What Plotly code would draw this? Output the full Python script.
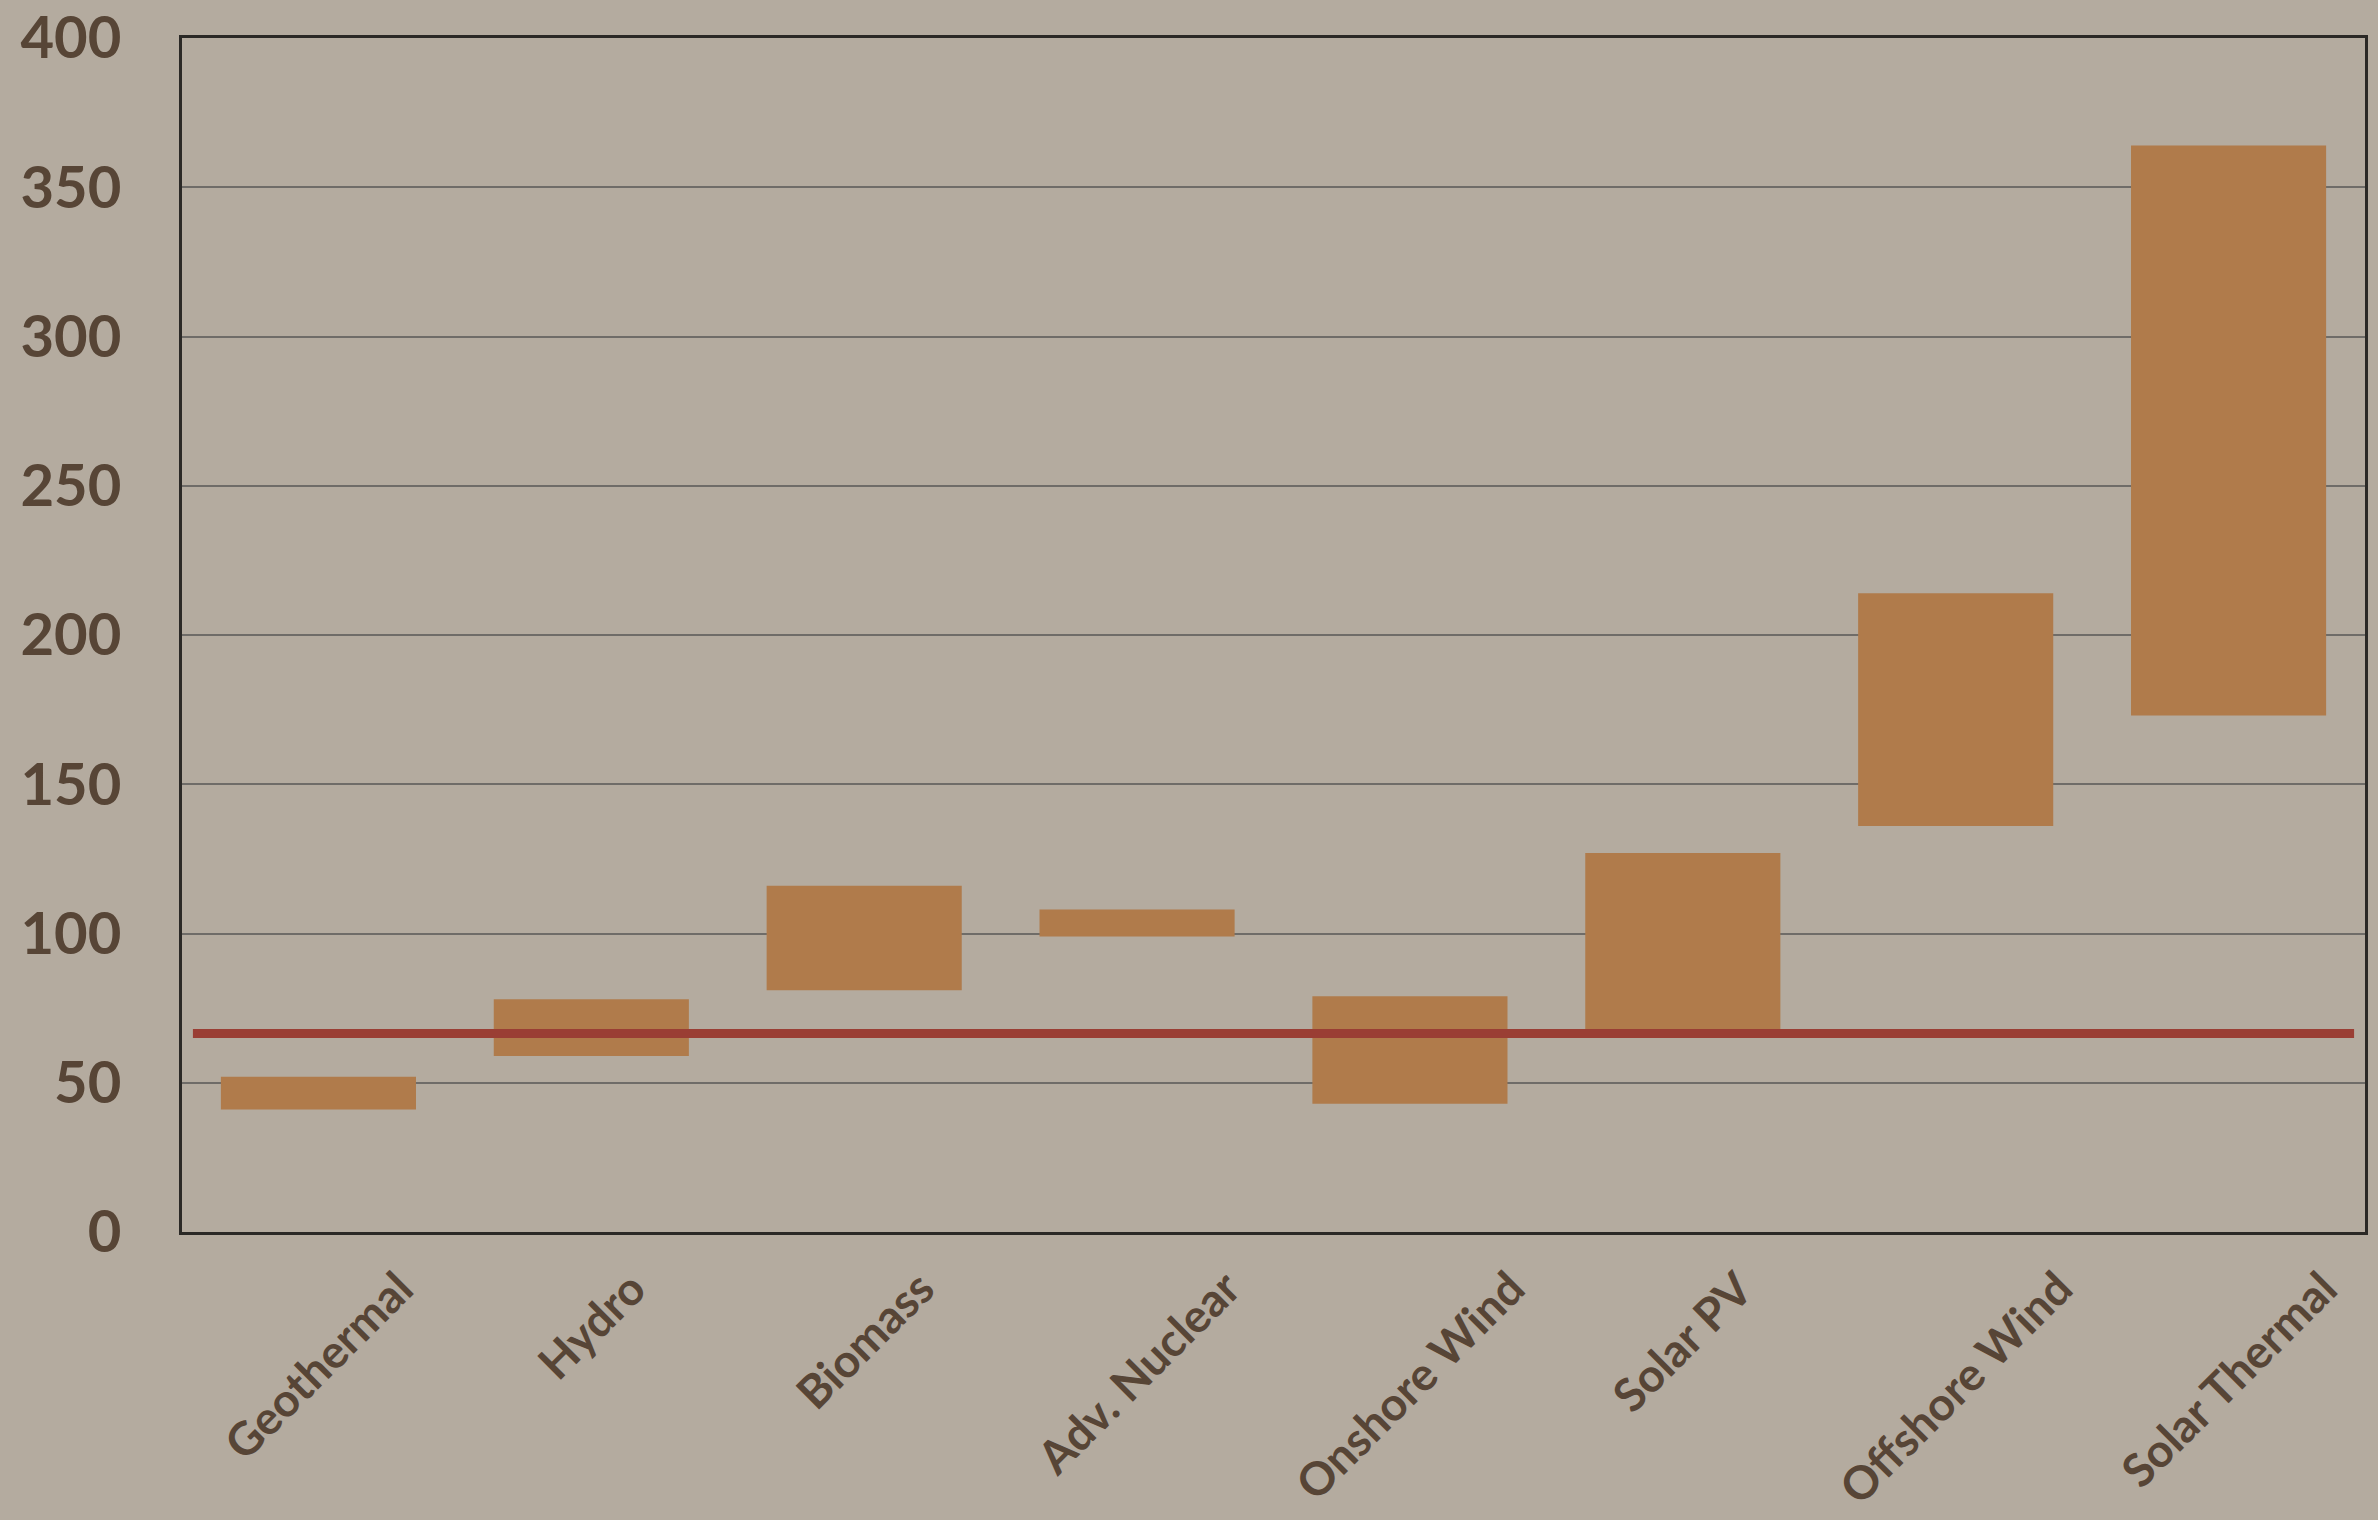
import plotly.graph_objects as go

categories = ["Geothermal", "Hydro", "Biomass", "Adv. Nuclear",
              "Onshore Wind", "Solar PV", "Offshore Wind", "Solar Thermal"]
low_values = [41, 59, 81, 99, 43, 65, 136, 173]
high_values = [52, 78, 116, 108, 79, 127, 214, 364]
reference_value = 66.5
y_ticks = [0, 50, 100, 150, 200, 250, 300, 350, 400]

BG = "#B4AB9F"
BAR = "#B07B4B"
RED = "#9A3E34"
TXT = "#574536"
GRID = "#6F6C68"
AXIS = "#2B2926"
FONT = "Lato, 'Open Sans', sans-serif"

spans = [h - l for l, h in zip(low_values, high_values)]

fig = go.Figure()
fig.add_trace(go.Bar(
    x=categories, y=spans, base=low_values,
    marker=dict(color=BAR, line=dict(width=0)),
    hoverinfo="skip", showlegend=False,
))

fig.add_shape(type="line", xref="x domain", yref="y",
              x0=0.005, x1=0.995, y0=reference_value, y1=reference_value,
              line=dict(color=RED, width=9), layer="above")

for c in categories:
    fig.add_annotation(x=c, xref="x", y=-0.022, yref="paper",
                       text=c, textangle=-45, showarrow=False,
                       xanchor="center", yanchor="top", borderpad=0,
                       font=dict(family=FONT, size=46, color=TXT, weight="bold"))

fig.update_layout(
    width=2378, height=1520,
    margin=dict(l=182, r=13, t=38, b=288),
    paper_bgcolor=BG, plot_bgcolor=BG,
    bargap=0.285,
    xaxis=dict(showticklabels=False, showgrid=False, zeroline=False,
               showline=True, linecolor=AXIS, linewidth=3, mirror=True,
               ticks="", automargin=False),
    yaxis=dict(range=[0, 400], tickvals=y_ticks,
               showgrid=True, gridcolor=GRID, gridwidth=2, zeroline=False,
               showline=True, linecolor=AXIS, linewidth=3, mirror=True,
               ticks="", ticklabelstandoff=46, automargin=False,
               tickfont=dict(family=FONT, size=58, color=TXT, weight="bold")),
)

fig.write_html("out.html")
